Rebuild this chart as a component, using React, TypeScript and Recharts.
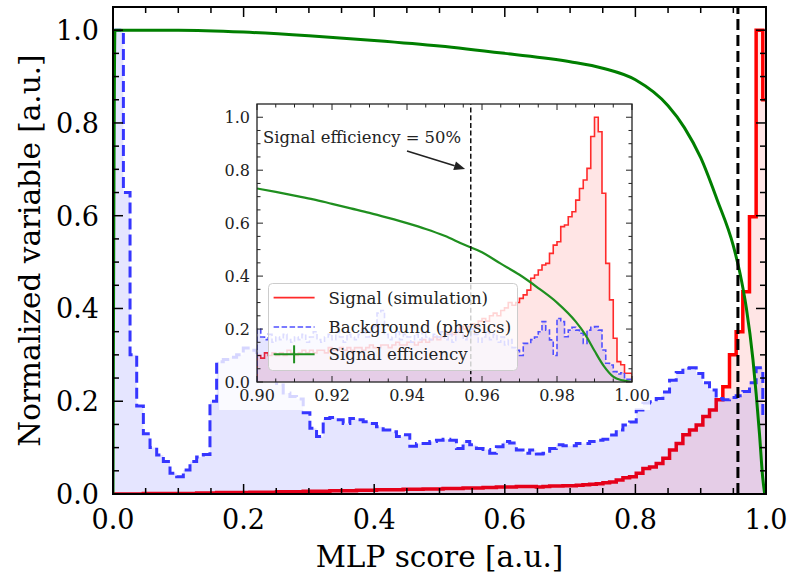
import React from 'react';
import {
  ComposedChart,
  Area,
  Line,
  XAxis,
  YAxis,
  ReferenceLine,
  ReferenceDot,
  CartesianGrid,
  Legend,
  Label,
} from 'recharts';

const FONT = 'DejaVu Serif';

// ---------- main panel: MLP score histograms (equal-width bins) ----------
const mainBinStart = -0.0045;
const mainBinWidth = 0.0102;

const mainSignal = [
  0, 0, 0, 0, 0, 0.001, 0.001, 0.001, 0.001, 0.001,
  0.001, 0.001, 0.001, 0.002, 0.002, 0.002, 0.003, 0.003, 0.003, 0.003,
  0.003, 0.004, 0.004, 0.004, 0.004, 0.005, 0.005, 0.005, 0.005, 0.006,
  0.006, 0.006, 0.006, 0.007, 0.007, 0.007, 0.007, 0.008, 0.008, 0.008,
  0.009, 0.009, 0.009, 0.009, 0.01, 0.01, 0.01, 0.011, 0.011, 0.011,
  0.012, 0.012, 0.012, 0.013, 0.013, 0.013, 0.014, 0.014, 0.015, 0.015,
  0.015, 0.016, 0.016, 0.016, 0.015, 0.016, 0.017, 0.017, 0.018, 0.018,
  0.019, 0.02, 0.021, 0.022, 0.024, 0.026, 0.03, 0.035, 0.037, 0.045,
  0.055, 0.058, 0.066, 0.077, 0.095, 0.109, 0.128, 0.138, 0.149, 0.167,
  0.181, 0.203, 0.231, 0.3, 0.35, 0.436, 0.598, 1.0, 0.85,
];

const mainBackground = [
  1.0, 1.0, 0.65, 0.3, 0.19, 0.13, 0.1, 0.084, 0.07, 0.045,
  0.037, 0.052, 0.07, 0.08, 0.085, 0.2, 0.285, 0.29, 0.295, 0.3,
  0.315, 0.31, 0.305, 0.29, 0.26, 0.235, 0.218, 0.21, 0.205, 0.175,
  0.142, 0.124, 0.163, 0.165, 0.16, 0.152, 0.163, 0.16, 0.156, 0.152,
  0.145, 0.138, 0.134, 0.124, 0.128, 0.103, 0.109, 0.109, 0.113, 0.116,
  0.118, 0.116, 0.098, 0.113, 0.106, 0.098, 0.096, 0.088, 0.102, 0.113,
  0.11, 0.095, 0.088, 0.095, 0.086, 0.088, 0.098, 0.106, 0.104, 0.104,
  0.109, 0.109, 0.113, 0.116, 0.118, 0.127, 0.138, 0.149, 0.155, 0.181,
  0.196, 0.199, 0.206, 0.22, 0.245, 0.262, 0.271, 0.272, 0.26, 0.24,
  0.224, 0.206, 0.203, 0.208, 0.212, 0.221, 0.24, 0.272, 0.17,
];

const mainEffScore = [
  0, 0.003, 0.1, 0.2, 0.3, 0.4, 0.5, 0.6, 0.7, 0.75, 0.8, 0.85, 0.875,
  0.9, 0.925, 0.95, 0.96, 0.97, 0.98, 0.985, 0.99, 0.995, 0.998,
];
const mainEffValue = [
  0, 1.0, 1.0, 0.996, 0.988, 0.978, 0.966, 0.95, 0.932, 0.918, 0.893, 0.837, 0.79,
  0.725, 0.635, 0.535, 0.477, 0.4, 0.29, 0.215, 0.13, 0.035, 0.0,
];

// ---------- inset: zoom on the high-score region ----------
const insetBinStart = 0.9;
const insetBinWidth = 0.001;

const insetSignal = [
  0.1, 0.09, 0.11, 0.1, 0.11, 0.1, 0.11, 0.1, 0.12, 0.11,
  0.1, 0.11, 0.12, 0.11, 0.12, 0.11, 0.12, 0.12, 0.11, 0.13,
  0.12, 0.12, 0.13, 0.12, 0.13, 0.12, 0.13, 0.13, 0.12, 0.13,
  0.14, 0.13, 0.13, 0.14, 0.14, 0.13, 0.14, 0.15, 0.14, 0.14,
  0.15, 0.15, 0.14, 0.15, 0.16, 0.15, 0.16, 0.17, 0.16, 0.17,
  0.18, 0.19, 0.18, 0.19, 0.21, 0.2, 0.21, 0.22, 0.21, 0.23,
  0.24, 0.23, 0.25, 0.26, 0.25, 0.27, 0.28, 0.3, 0.29, 0.3,
  0.316, 0.329, 0.347, 0.392, 0.404, 0.423, 0.442, 0.448, 0.486, 0.517,
  0.53, 0.587, 0.593, 0.624, 0.643, 0.687, 0.731, 0.763, 0.807, 0.927,
  1.0, 0.945, 0.713, 0.448, 0.31, 0.165, 0.077, 0.065, 0.033, 0.033,
];

const insetBackground = [
  0.2, 0.17, 0.16, 0.18, 0.15, 0.17, 0.16, 0.18, 0.16, 0.15,
  0.17, 0.16, 0.18, 0.15, 0.17, 0.19, 0.16, 0.15, 0.17, 0.18,
  0.16, 0.19, 0.17, 0.15, 0.18, 0.17, 0.16, 0.18, 0.2, 0.17,
  0.19, 0.21, 0.26, 0.27, 0.18, 0.16, 0.17, 0.19, 0.16, 0.18,
  0.17, 0.15, 0.18, 0.16, 0.19, 0.17, 0.16, 0.18, 0.17, 0.19,
  0.16, 0.18, 0.15, 0.2, 0.19, 0.16, 0.17, 0.2, 0.18, 0.15,
  0.17, 0.19, 0.16, 0.18, 0.15, 0.17, 0.14, 0.16, 0.13, 0.12,
  0.1, 0.146, 0.146, 0.16, 0.17, 0.19, 0.228, 0.196, 0.159, 0.1,
  0.24, 0.228, 0.171, 0.196, 0.207, 0.196, 0.184, 0.146, 0.196, 0.207,
  0.209, 0.196, 0.121, 0.071, 0.064, 0.039, 0.03, 0.035, 0.01, 0.01,
];

const insetEffScore = [
  0.9, 0.905, 0.91, 0.915, 0.92, 0.925, 0.93, 0.935, 0.94, 0.945, 0.95, 0.955,
  0.96, 0.965, 0.97, 0.975, 0.98, 0.985, 0.9875, 0.99, 0.9925, 0.995, 0.9975, 1.0,
];
const insetEffValue = [
  0.731, 0.718, 0.704, 0.69, 0.673, 0.656, 0.639, 0.62, 0.6, 0.578, 0.552, 0.52,
  0.49, 0.447, 0.405, 0.355, 0.3, 0.228, 0.18, 0.118, 0.06, 0.02, 0.006, 0.0,
];

// 50 % signal-efficiency working point
const cutScore = 0.957;

// tick positions / labels
const mainTicks = [
  0, 0.05, 0.1, 0.15, 0.2, 0.25, 0.3, 0.35, 0.4, 0.45, 0.5,
  0.55, 0.6, 0.65, 0.7, 0.75, 0.8, 0.85, 0.9, 0.95, 1.0,
];
const insetXTicks = [
  0.9, 0.905, 0.91, 0.915, 0.92, 0.925, 0.93, 0.935, 0.94, 0.945, 0.95,
  0.955, 0.96, 0.965, 0.97, 0.975, 0.98, 0.985, 0.99, 0.995, 1.0,
];
const insetYTicks = mainTicks;

const seriesNames = ['Signal (simulation)', 'Background (physics)', 'Signal efficiency'];
const annotationText = 'Signal efficiency = 50%';

// ---------- helpers ----------
type Pt = { x: number; y: number };

// outline of a step histogram (closed down to zero at both ends)
function histPoints(start: number, width: number, values: number[]): Pt[] {
  const pts: Pt[] = [{ x: start, y: 0 }];
  values.forEach((v, i) => pts.push({ x: +(start + i * width).toFixed(6), y: v }));
  const end = +(start + values.length * width).toFixed(6);
  pts.push({ x: end, y: values[values.length - 1] });
  pts.push({ x: end, y: 0 });
  return pts;
}

function curvePoints(xs: number[], ys: number[]): Pt[] {
  return xs.map((x, i) => ({ x, y: ys[i] }));
}

const mainSignalPts = histPoints(mainBinStart, mainBinWidth, mainSignal);
const mainBackgroundPts = histPoints(mainBinStart, mainBinWidth, mainBackground);
const mainEffPts = curvePoints(mainEffScore, mainEffValue);
const insetSignalPts = histPoints(insetBinStart, insetBinWidth, insetSignal);
const insetBackgroundPts = histPoints(insetBinStart, insetBinWidth, insetBackground);
const insetEffPts = curvePoints(insetEffScore, insetEffValue);

// ---------- layout ----------
const W = 792;
const H = 584;
const MAIN = { left: 113, right: 766, top: 7, bottom: 494 };

const INSET_BOX = { left: 200, top: 80, width: 460, height: 340 };
const INSET = { left: 57, right: 432, top: 24, bottom: 302 };

const LEGEND_FS = 16.6;

type TickOpts = {
  lo: number;
  hi: number;
  majorLen: number;
  minorLen: number;
  width: number;
  color: string;
  fontSize: number;
  labelOffset: number;
  isMajor: (v: number) => boolean;
  format: (v: number) => string;
};

function makeXTick(o: TickOpts) {
  return function XTick(props: any) {
    const { x, payload } = props;
    const v = payload.value as number;
    const major = o.isMajor(v);
    const len = major ? o.majorLen : o.minorLen;
    return (
      <g>
        <line x1={x} x2={x} y1={o.hi} y2={o.hi - len} stroke={o.color} strokeWidth={o.width} />
        <line x1={x} x2={x} y1={o.lo} y2={o.lo + len} stroke={o.color} strokeWidth={o.width} />
        {major ? (
          <text
            x={x}
            y={o.hi + o.labelOffset}
            textAnchor="middle"
            style={{ fontFamily: FONT }}
            fontSize={o.fontSize}
            fill={o.color}
          >
            {o.format(v)}
          </text>
        ) : null}
      </g>
    );
  };
}

function makeYTick(o: TickOpts & { baselineShift: number }) {
  return function YTick(props: any) {
    const { y, payload } = props;
    const v = payload.value as number;
    const major = o.isMajor(v);
    const len = major ? o.majorLen : o.minorLen;
    return (
      <g>
        <line x1={o.lo} x2={o.lo + len} y1={y} y2={y} stroke={o.color} strokeWidth={o.width} />
        <line x1={o.hi} x2={o.hi - len} y1={y} y2={y} stroke={o.color} strokeWidth={o.width} />
        {major ? (
          <text
            x={o.lo - o.labelOffset}
            y={y + o.baselineShift}
            textAnchor="end"
            style={{ fontFamily: FONT }}
            fontSize={o.fontSize}
            fill={o.color}
          >
            {o.format(v)}
          </text>
        ) : null}
      </g>
    );
  };
}

const isMajor02 = (v: number) => Math.round(v * 100) % 20 === 0;
const isMajor002 = (v: number) => Math.round(v * 1000) % 20 === 0;

const MainXTick = makeXTick({
  lo: MAIN.top,
  hi: MAIN.bottom,
  majorLen: 10,
  minorLen: 6,
  width: 1.5,
  color: '#000',
  fontSize: 27,
  labelOffset: 35,
  isMajor: isMajor02,
  format: (v) => v.toFixed(1),
});

const MainYTick = makeYTick({
  lo: MAIN.left,
  hi: MAIN.right,
  majorLen: 10,
  minorLen: 6,
  width: 1.5,
  color: '#000',
  fontSize: 27,
  labelOffset: 14,
  baselineShift: 10,
  isMajor: isMajor02,
  format: (v) => v.toFixed(1),
});

const InsetXTick = makeXTick({
  lo: INSET.top,
  hi: INSET.bottom,
  majorLen: 6,
  minorLen: 3.5,
  width: 1,
  color: '#222',
  fontSize: 16,
  labelOffset: 19,
  isMajor: isMajor002,
  format: (v) => v.toFixed(2),
});

const InsetYTick = makeYTick({
  lo: INSET.left,
  hi: INSET.right,
  majorLen: 6,
  minorLen: 3.5,
  width: 1,
  color: '#222',
  fontSize: 16,
  labelOffset: 7,
  baselineShift: 6,
  isMajor: isMajor02,
  format: (v) => v.toFixed(1),
});

// annotation arrow drawn between two data points
function ArrowShape(props: any) {
  const { x1, y1, x2, y2 } = props;
  const ang = Math.atan2(y2 - y1, x2 - x1);
  const headLen = 11;
  const headHalf = 4.5;
  const bx = x2 - headLen * Math.cos(ang);
  const by = y2 - headLen * Math.sin(ang);
  const px = -Math.sin(ang) * headHalf;
  const py = Math.cos(ang) * headHalf;
  return (
    <g>
      <line x1={x1} y1={y1} x2={bx} y2={by} stroke="#222" strokeWidth={1.6} />
      <polygon points={`${x2},${y2} ${bx + px},${by + py} ${bx - px},${by - py}`} fill="#222" />
    </g>
  );
}

function AnnotationText(props: any) {
  const { cx, cy } = props;
  return (
    <text x={cx} y={cy} style={{ fontFamily: FONT }} fontSize={16.4} fill="#222">
      {annotationText}
    </text>
  );
}

function InsetLegend() {
  const textX = 60.6;
  const ts = { fontFamily: FONT };
  return (
    <svg width={250} height={88} style={{ display: 'block' }}>
      <rect
        x={0.5}
        y={0.5}
        width={249}
        height={87}
        rx={4}
        fill="#ffffff"
        fillOpacity={0.8}
        stroke="#cccccc"
        strokeWidth={1}
      />
      <line x1={5.6} x2={46.6} y1={14.6} y2={14.6} stroke="#ff2a2a" strokeWidth={1.6} />
      <text x={textX} y={21} style={ts} fontSize={LEGEND_FS} fill="#222">
        {seriesNames[0]}
      </text>
      <line
        x1={5.6}
        x2={46.6}
        y1={44}
        y2={44}
        stroke="#5050ff"
        strokeWidth={1.6}
        strokeDasharray="5.5 2.5"
      />
      <text x={textX} y={50} style={ts} fontSize={LEGEND_FS} fill="#222">
        {seriesNames[1]}
      </text>
      <line x1={5.6} x2={46.6} y1={71.3} y2={71.3} stroke="#1f8f1f" strokeWidth={2} />
      <line x1={26.1} x2={26.1} y1={62.3} y2={80.3} stroke="#1f8f1f" strokeWidth={2} />
      <text x={textX} y={77} style={ts} fontSize={LEGEND_FS} fill="#222">
        {seriesNames[2]}
      </text>
    </svg>
  );
}

function MainChart() {
  return (
    <ComposedChart
      width={W}
      height={H}
      margin={{ top: MAIN.top, right: W - MAIN.right, bottom: 0, left: 0 }}
    >
      <XAxis
        type="number"
        dataKey="x"
        domain={[0, 1]}
        allowDataOverflow
        ticks={mainTicks}
        interval={0}
        tick={MainXTick}
        tickLine={false}
        axisLine={false}
        tickSize={0}
        tickMargin={0}
        height={H - MAIN.bottom}
      >
        <Label
          content={() => (
            <text
              x={(MAIN.left + MAIN.right) / 2}
              y={557}
              textAnchor="middle"
              dominantBaseline="central"
              style={{ fontFamily: FONT }}
              fontSize={29.5}
              fill="#000"
            >
              MLP score [a.u.]
            </text>
          )}
        />
      </XAxis>
      <YAxis
        type="number"
        domain={[0, 1.05]}
        allowDataOverflow
        ticks={mainTicks}
        interval={0}
        tick={MainYTick}
        tickLine={false}
        axisLine={false}
        tickSize={0}
        tickMargin={0}
        width={MAIN.left}
      >
        <Label
          content={() => (
            <text
              x={30}
              y={(MAIN.top + MAIN.bottom) / 2}
              transform={`rotate(-90, 30, ${(MAIN.top + MAIN.bottom) / 2})`}
              textAnchor="middle"
              dominantBaseline="central"
              style={{ fontFamily: FONT }}
              fontSize={29.5}
              fill="#000"
            >
              Normalized variable [a.u.]
            </text>
          )}
        />
      </YAxis>
      <Area
        data={mainSignalPts}
        dataKey="y"
        type="stepAfter"
        stroke="#ff0000"
        strokeWidth={3.5}
        fill="#ff0000"
        fillOpacity={0.1}
        isAnimationActive={false}
        dot={false}
        activeDot={false}
      />
      <Area
        data={mainBackgroundPts}
        dataKey="y"
        type="stepAfter"
        stroke="#3636ff"
        strokeWidth={3}
        strokeDasharray="11 5"
        fill="#0000ff"
        fillOpacity={0.1}
        isAnimationActive={false}
        dot={false}
        activeDot={false}
      />
      <Line
        data={mainEffPts}
        dataKey="y"
        type="monotone"
        stroke="#007f00"
        strokeWidth={3}
        dot={false}
        activeDot={false}
        isAnimationActive={false}
      />
      <ReferenceLine x={cutScore} stroke="#000" strokeWidth={3} strokeDasharray="11 5" />
    </ComposedChart>
  );
}

function InsetChart() {
  return (
    <ComposedChart
      width={INSET_BOX.width}
      height={INSET_BOX.height}
      margin={{ top: INSET.top, right: INSET_BOX.width - INSET.right, bottom: 0, left: 0 }}
    >
      <CartesianGrid horizontal={false} vertical={false} fill="#ffffff" fillOpacity={1} />
      <XAxis
        type="number"
        dataKey="x"
        domain={[0.9, 1.0]}
        allowDataOverflow
        ticks={insetXTicks}
        interval={0}
        tick={InsetXTick}
        tickLine={false}
        axisLine={false}
        tickSize={0}
        tickMargin={0}
        height={INSET_BOX.height - INSET.bottom}
      />
      <YAxis
        type="number"
        domain={[0, 1.05]}
        allowDataOverflow
        ticks={insetYTicks}
        interval={0}
        tick={InsetYTick}
        tickLine={false}
        axisLine={false}
        tickSize={0}
        tickMargin={0}
        width={INSET.left}
      />
      <Area
        data={insetSignalPts}
        dataKey="y"
        type="stepAfter"
        stroke="#ff2a2a"
        strokeWidth={1.6}
        fill="#ff0000"
        fillOpacity={0.1}
        isAnimationActive={false}
        dot={false}
        activeDot={false}
      />
      <Area
        data={insetBackgroundPts}
        dataKey="y"
        type="stepAfter"
        stroke="#5050ff"
        strokeWidth={1.6}
        strokeDasharray="5.5 2.5"
        fill="#0000ff"
        fillOpacity={0.1}
        isAnimationActive={false}
        dot={false}
        activeDot={false}
      />
      <Line
        data={insetEffPts}
        dataKey="y"
        type="monotone"
        stroke="#1f8f1f"
        strokeWidth={2.2}
        dot={false}
        activeDot={false}
        isAnimationActive={false}
      />
      <ReferenceLine x={cutScore} stroke="#111" strokeWidth={1.5} strokeDasharray="5 2.7" />
      <ReferenceLine
        segment={[
          { x: 0.94, y: 0.8725 },
          { x: 0.9555, y: 0.8045 },
        ]}
        shape={ArrowShape}
      />
      <ReferenceDot x={0.9016} y={0.9027} r={0} shape={AnnotationText} />
      <Legend
        layout="horizontal"
        verticalAlign="middle"
        align="center"
        wrapperStyle={{ left: 67.7, top: 202.7, width: 250, height: 88 }}
        content={() => <InsetLegend />}
      />
    </ComposedChart>
  );
}

export default function App() {
  return (
    <div
      style={{
        position: 'absolute',
        left: 0,
        top: 0,
        width: W,
        height: H,
        background: '#ffffff',
        overflow: 'hidden',
      }}
    >
      <div style={{ position: 'absolute', left: 0, top: 0 }}>
        <MainChart />
      </div>
      <svg
        width={W}
        height={H}
        style={{ position: 'absolute', left: 0, top: 0, pointerEvents: 'none' }}
      >
        <rect
          x={MAIN.left}
          y={MAIN.top}
          width={MAIN.right - MAIN.left}
          height={MAIN.bottom - MAIN.top}
          fill="none"
          stroke="#000"
          strokeWidth={2}
        />
      </svg>
      {/* translucent backdrop behind the inset and its tick labels */}
      <div
        style={{
          position: 'absolute',
          left: 219,
          top: 98,
          width: 431,
          height: 312,
          background: 'rgba(255,255,255,0.8)',
        }}
      />
      <div
        style={{
          position: 'absolute',
          left: INSET_BOX.left,
          top: INSET_BOX.top,
          width: INSET_BOX.width,
          height: INSET_BOX.height,
        }}
      >
        <InsetChart />
        <svg
          width={INSET_BOX.width}
          height={INSET_BOX.height}
          style={{ position: 'absolute', left: 0, top: 0, pointerEvents: 'none' }}
        >
          <rect
            x={INSET.left}
            y={INSET.top}
            width={INSET.right - INSET.left}
            height={INSET.bottom - INSET.top}
            fill="none"
            stroke="#222"
            strokeWidth={1.3}
          />
        </svg>
      </div>
    </div>
  );
}
